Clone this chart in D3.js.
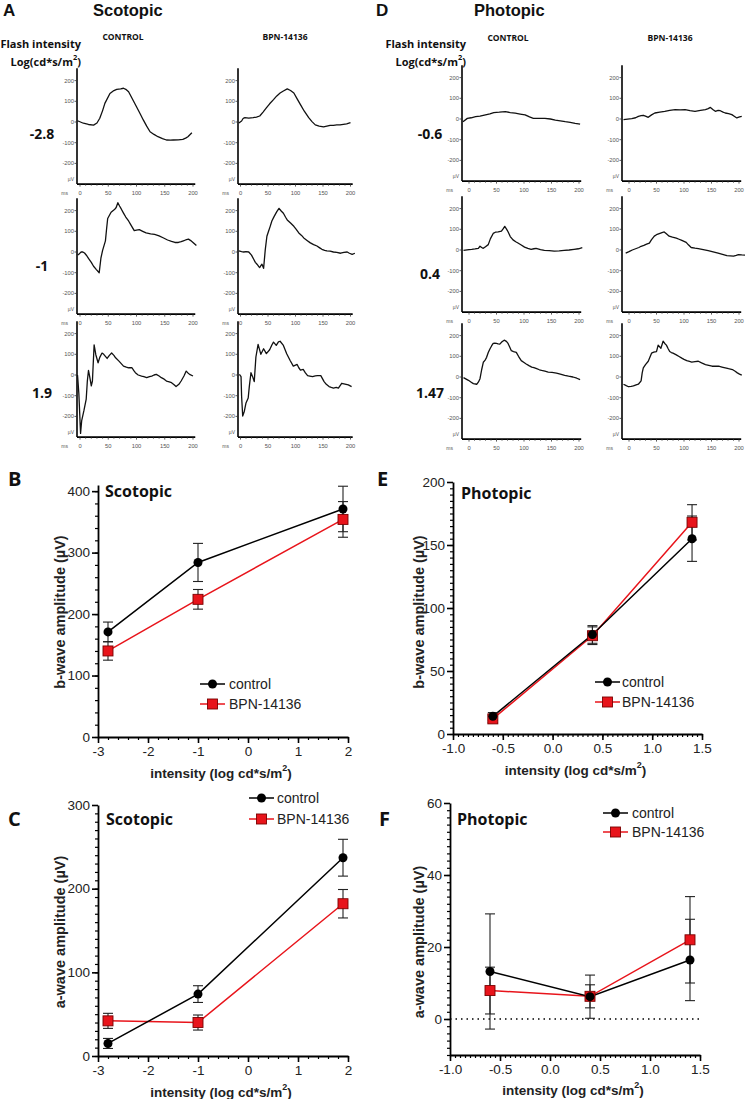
<!DOCTYPE html>
<html><head><meta charset="utf-8">
<script src="https://cdn.jsdelivr.net/npm/d3@7"></script>
<style>
body{margin:0;background:#fff}
svg{display:block}
</style></head>
<body>
<svg id="fig" width="745" height="1099"></svg>
<script>
// ---------- DATA ----------
const groups = ["control", "BPN-14136"];
const scotIntensities = ["-2.8", "-1", "1.9"];
const photIntensities = ["-0.6", "0.4", "1.47"];
const traceYTicks = [200, 100, 0, -100, -200];
const traceXTicks = [0, 50, 100, 150, 200];

// ERG traces [ms, µV]
const traceScotCtrl1 = [[-5,6],[6,-6],[15,-12],[24,-15],[30,-5],[35,18],[40,55],[44,90],[53,138],[60,152],[65,158],[72,160],[77,163],[81,158],[86,146],[93,110],[100,74],[106,42],[112,10],[118,-20],[124,-47],[131,-60],[138,-71],[146,-80],[153,-87],[160,-88],[165,-87],[174,-86],[182,-84],[187,-78],[191,-71],[198,-52]];
const traceScotBpn1 = [[-3,-5],[2,5],[5,18],[8,21],[15,19],[23,21],[29,24],[35,29],[41,48],[47,68],[53,88],[60,108],[66,126],[72,140],[78,150],[85,160],[91,152],[97,140],[103,112],[109,84],[116,52],[124,21],[130,2],[136,-14],[143,-20],[151,-24],[157,-20],[163,-16],[169,-16],[175,-14],[181,-14],[187,-11],[193,-9],[200,-3]];
const traceScotCtrl2 = [[-4,-15],[-1,-8],[2,0],[5,0],[8,-5],[12,-18],[15,-31],[20,-50],[24,-69],[29,-85],[34,-100],[37,-30],[40,8],[45,54],[47,110],[49,162],[55,192],[61,205],[64,215],[67,238],[70,222],[73,208],[77,188],[81,169],[86,150],[90,131],[96,103],[100,106],[105,108],[111,100],[117,92],[125,88],[132,85],[140,78],[147,69],[155,58],[162,51],[168,46],[174,46],[179,50],[183,54],[187,58],[192,62],[196,55],[200,46],[206,31]];
const traceScotBpn2 = [[-3,5],[2,2],[6,0],[10,2],[15,0],[20,-15],[24,-35],[27,-50],[30,-59],[33,-70],[35,-75],[37,-66],[39,-59],[42,-79],[45,10],[48,76],[51,100],[54,124],[57,150],[61,171],[66,195],[70,211],[74,198],[78,187],[82,168],[85,155],[91,140],[97,124],[101,110],[106,92],[111,80],[115,68],[121,56],[127,44],[133,36],[139,29],[144,20],[148,13],[153,8],[157,5],[163,4],[169,0],[175,-2],[182,-6],[188,-2],[194,0],[198,-6],[203,-11],[208,-6]];
const traceScotCtrl3 = [[-5,0],[-4,-13],[-2,-92],[1,-282],[3,-220],[7,-171],[11,-116],[13,-29],[15,22],[17,-5],[20,-53],[22,-29],[25,146],[28,98],[32,59],[35,85],[39,106],[42,100],[45,90],[48,80],[52,95],[56,106],[60,95],[63,83],[69,67],[73,55],[77,43],[82,38],[86,35],[92,35],[95,22],[98,11],[103,0],[109,-5],[113,-8],[118,-13],[123,-8],[127,-5],[131,0],[135,3],[140,-5],[144,-13],[149,-20],[153,-29],[158,-33],[162,-37],[166,-46],[170,-56],[175,-45],[179,-29],[184,-5],[188,19],[191,10],[194,3],[200,-5]];
const traceScotBpn3 = [[-2,3],[1,-8],[2,-103],[4,-198],[7,-175],[10,-135],[14,-111],[16,-56],[19,11],[22,-8],[25,-32],[28,87],[32,148],[37,100],[42,127],[47,103],[53,122],[57,145],[60,159],[65,143],[69,160],[72,163],[78,143],[84,103],[90,71],[96,43],[100,48],[103,51],[106,35],[109,24],[114,27],[118,10],[122,-3],[126,-5],[131,-8],[136,-4],[140,-3],[146,-3],[152,-32],[156,-45],[161,-56],[165,-60],[169,-63],[174,-60],[178,-63],[184,-40],[190,-44],[196,-48],[202,-56]];
const tracePhotCtrl1 = [[-11,-13],[-3,3],[4,6],[12,11],[20,14],[30,20],[38,25],[45,31],[55,33],[66,36],[75,31],[84,28],[93,24],[102,20],[110,10],[117,3],[128,3],[138,3],[148,0],[157,-5],[166,-9],[175,-13],[184,-16],[193,-21],[202,-25]];
const tracePhotBpn1 = [[-10,-3],[5,2],[12,6],[17,13],[22,16],[26,18],[30,14],[35,8],[41,20],[47,29],[56,33],[65,37],[74,42],[84,45],[93,44],[102,45],[111,40],[120,37],[130,42],[139,45],[144,50],[148,56],[153,45],[157,37],[162,42],[166,40],[171,33],[175,29],[181,26],[187,21],[192,12],[196,5],[201,10],[205,13]];
const tracePhotCtrl2 = [[-10,-2],[0,2],[5,3],[11,5],[17,8],[20,18],[23,12],[26,8],[30,16],[35,26],[39,55],[44,80],[48,86],[53,88],[59,91],[62,102],[65,114],[68,102],[71,88],[75,65],[80,49],[85,40],[89,34],[95,24],[101,14],[107,8],[113,3],[118,6],[122,8],[130,2],[137,-2],[146,-3],[155,-5],[164,-4],[173,-2],[182,0],[191,3],[199,6],[206,11]];
const tracePhotBpn2 = [[-6,-15],[0,-8],[6,0],[12,6],[18,12],[22,18],[27,22],[32,28],[37,33],[41,50],[46,67],[50,74],[55,79],[60,84],[64,87],[68,78],[73,67],[79,62],[86,57],[91,52],[95,48],[100,42],[104,37],[108,25],[113,12],[120,9],[126,7],[135,2],[144,-3],[153,-9],[162,-15],[170,-21],[178,-27],[184,-28],[190,-30],[195,-26],[199,-22],[205,-24],[211,-25]];
const tracePhotCtrl3 = [[-10,-3],[-1,-16],[4,-25],[8,-32],[14,-35],[17,-25],[20,-8],[23,35],[26,71],[29,80],[32,95],[35,118],[38,135],[41,150],[44,162],[47,163],[50,162],[53,160],[56,159],[60,170],[64,178],[68,172],[71,162],[74,145],[77,127],[81,123],[86,119],[90,100],[95,79],[100,70],[104,63],[109,55],[114,48],[118,45],[123,40],[128,35],[132,32],[138,28],[144,24],[151,22],[159,19],[166,14],[174,8],[181,4],[189,0],[196,-6],[202,-13]];
const tracePhotBpn3 = [[-10,-35],[-5,-42],[-1,-47],[4,-45],[8,-43],[13,-38],[17,-35],[22,-19],[24,20],[26,44],[30,60],[35,76],[38,95],[41,115],[45,120],[50,123],[53,154],[58,139],[62,173],[65,162],[68,154],[71,138],[74,123],[77,118],[80,115],[86,107],[91,99],[96,91],[100,85],[105,79],[110,75],[114,72],[120,74],[126,76],[132,68],[139,60],[145,56],[151,52],[157,53],[163,52],[169,48],[175,44],[181,40],[188,36],[193,28],[197,20],[201,14],[205,9]];

// Summary data
const xScot = [-2.8, -1, 1.9];
const xPhot = [-0.6, 0.4, 1.4];
const bScotCtrl = [171, 284, 371];
const bScotCtrlErr = [16, 31, 37];
const bScotBpn = [140, 224, 354];
const bScotBpnErr = [15, 16, 29];
const aScotCtrl = [15, 74, 237];
const aScotCtrlErr = [6, 10, 22];
const aScotBpn = [42, 40, 182];
const aScotBpnErr = [9, 9, 17];
const bPhotCtrl = [14, 79, 155];
const bPhotCtrlErr = [3, 7, 18];
const bPhotBpn = [12, 78, 168];
const bPhotBpnErr = [3, 7, 14];
const aPhotCtrl = [13.2, 6.2, 16.4];
const aPhotCtrlErr = [16, 6, 11.3];
const aPhotBpn = [7.9, 6.3, 22];
const aPhotBpnErr = [6.5, 3.2, 12];

const scotXTicks = [-3, -2, -1, 0, 1, 2];
const photXTicks = [-1.0, -0.5, 0.0, 0.5, 1.0, 1.5];

// ---------- DRAW ----------
const svg = d3.select("#fig");
svg.append("rect").attr("width", 745).attr("height", 1099).attr("fill", "#fff");
const HEAD = "'Open Sans', 'Noto Sans', sans-serif";
const ARIAL = "'Liberation Sans', Arial, sans-serif";

function txt(x, y, s, size, weight, anchor, fam) {
  return svg.append("text").attr("x", x).attr("y", y).text(s)
    .attr("font-size", size).attr("font-weight", weight || "normal")
    .attr("text-anchor", anchor || "start").attr("font-family", fam || HEAD)
    .attr("dominant-baseline", "central").attr("fill", "#111");
}
function txtBase(x, y, s, size, weight, anchor) {
  return svg.append("text").attr("x", x).attr("y", y).text(s)
    .attr("font-size", size).attr("font-weight", weight || "normal")
    .attr("text-anchor", anchor || "start").attr("font-family", ARIAL).attr("fill", "#111");
}

// Headers (alphabetic baseline)
txtBase(3, 16, "A", 17, "bold");
txtBase(93, 16, "Scotopic", 16.5, "bold");
txtBase(376, 16, "D", 17, "bold");
txtBase(474, 16, "Photopic", 16.5, "bold");

function flashLabel(xRight, yc) {
  txt(xRight, yc, "Flash intensity", 11, "bold", "end");
  const t = txt(xRight, yc + 18, "", 11, "bold", "end");
  t.append("tspan").text("Log(cd*s/m");
  t.append("tspan").text("2").attr("font-size", 7.5).attr("dy", -4);
  t.append("tspan").text(")").attr("dy", 4);
}
flashLabel(81, 43);
flashLabel(466, 43);
txt(123, 36, "CONTROL", 8.5, "bold", "middle");
txt(285, 36, "BPN-14136", 8.5, "bold", "middle");
txt(508, 37, "CONTROL", 8.5, "bold", "middle");
txt(670, 37, "BPN-14136", 8.5, "bold", "middle");

scotIntensities.forEach((s, i) => txt(42, [133, 265, 392][i], s, 14, "bold", "middle"));
photIntensities.forEach((s, i) => txt(430, [133, 273, 392][i], s, 14, "bold", "middle"));

// ERG trace panels
const lineGen = d3.line();
function tracePanel(axisX, zeroX, pxPerMs, y0, data) {
  const x = d3.scaleLinear().domain([0, 200]).range([zeroX, zeroX + 200 * pxPerMs]);
  const y = d3.scaleLinear().domain([0, 100]).range([y0, y0 - 20.7]);
  const g = svg.append("g");
  const yBot = y(-300), yTop = y(260);
  const xEnd = x(204);
  g.append("line").attr("x1", axisX).attr("x2", axisX).attr("y1", yTop).attr("y2", yBot)
    .attr("stroke", "#000").attr("stroke-width", 1.6);
  g.append("line").attr("x1", axisX).attr("x2", xEnd).attr("y1", yBot).attr("y2", yBot)
    .attr("stroke", "#000").attr("stroke-width", 1.6);
  traceYTicks.forEach(t => {
    g.append("line").attr("x1", axisX - 2.5).attr("x2", axisX).attr("y1", y(t)).attr("y2", y(t))
      .attr("stroke", "#333").attr("stroke-width", 0.8);
    g.append("text").attr("x", axisX - 3).attr("y", y(t)).text(String(t))
      .attr("font-size", 5.8).attr("font-family", ARIAL).attr("fill", "#555")
      .attr("text-anchor", "end").attr("dominant-baseline", "central");
  });
  g.append("text").attr("x", axisX - 3).attr("y", y(-275)).text("µV")
    .attr("font-size", 5).attr("font-family", ARIAL).attr("fill", "#555")
    .attr("text-anchor", "end").attr("dominant-baseline", "central");
  d3.range(0, 201, 10).forEach(t => {
    const major = t % 50 === 0;
    g.append("line").attr("x1", x(t)).attr("x2", x(t)).attr("y1", yBot).attr("y2", yBot + (major ? 2.5 : 1.6))
      .attr("stroke", "#333").attr("stroke-width", 0.8);
  });
  traceXTicks.forEach(t => {
    g.append("text").attr("x", x(t)).attr("y", yBot + 9).text(String(t))
      .attr("font-size", 5.8).attr("font-family", ARIAL).attr("fill", "#555")
      .attr("text-anchor", "middle").attr("dominant-baseline", "central");
  });
  g.append("text").attr("x", axisX - 9).attr("y", yBot + 9).text("ms")
    .attr("font-size", 5).attr("font-family", ARIAL).attr("fill", "#555")
    .attr("text-anchor", "end").attr("dominant-baseline", "central");
  const pts = data.map(d => [Math.max(x(d[0]), axisX + 0.5), y(d[1])]);
  g.append("path").attr("d", lineGen(pts)).attr("fill", "none")
    .attr("stroke", "#111").attr("stroke-width", 1.3).attr("stroke-linejoin", "round");
}
const scotY0 = [122, 252, 375], photY0 = [119, 250, 377];
const scotCtrl = [traceScotCtrl1, traceScotCtrl2, traceScotCtrl3];
const scotBpn = [traceScotBpn1, traceScotBpn2, traceScotBpn3];
const photCtrl = [tracePhotCtrl1, tracePhotCtrl2, tracePhotCtrl3];
const photBpn = [tracePhotBpn1, tracePhotBpn2, tracePhotBpn3];
for (let r = 0; r < 3; r++) {
  tracePanel(77, 80, 0.565, scotY0[r], scotCtrl[r]);
  tracePanel(238, 240.5, 0.55, scotY0[r], scotBpn[r]);
  tracePanel(462, 469, 0.55, photY0[r], photCtrl[r]);
  tracePanel(622, 629, 0.55, photY0[r], photBpn[r]);
}

// Summary panels
function summary(o) {
  const x = d3.scaleLinear().domain(o.xd).range(o.xr);
  const y = d3.scaleLinear().domain(o.yd).range(o.yr);
  const g = svg.append("g");
  g.append("g").attr("transform", `translate(0,${o.yr[0]})`)
    .call(d3.axisBottom(x).tickValues(o.xMinor).tickSize(3).tickFormat(""))
    .call(a => a.select(".domain").remove()).selectAll("line").attr("stroke-width", 1.2);
  g.append("g").attr("transform", `translate(${o.xr[0]},0)`)
    .call(d3.axisLeft(y).tickValues(o.yMinor).tickSize(3).tickFormat(""))
    .call(a => a.select(".domain").remove()).selectAll("line").attr("stroke-width", 1.2);
  const ax = g.append("g").attr("transform", `translate(0,${o.yr[0]})`)
    .call(d3.axisBottom(x).tickValues(o.xTicks).tickSize(6).tickSizeOuter(0).tickFormat(o.fx));
  const ay = g.append("g").attr("transform", `translate(${o.xr[0]},0)`)
    .call(d3.axisLeft(y).tickValues(o.yTicks).tickSize(6).tickSizeOuter(0).tickFormat(d => String(d)));
  [ax, ay].forEach(a => {
    a.select(".domain").attr("stroke-width", 1.8);
    a.selectAll(".tick line").attr("stroke-width", 1.6);
    a.selectAll("text").attr("font-size", 13.5).attr("font-family", ARIAL).attr("fill", "#222");
  });
  ax.selectAll("text").attr("dy", "0.71em").attr("y", 9);
  ay.selectAll("text").attr("x", -8);
  if (o.dotted) {
    g.append("line").attr("x1", o.xr[0]).attr("x2", o.xr[1]).attr("y1", y(0)).attr("y2", y(0))
      .attr("stroke", "#000").attr("stroke-width", 1.3).attr("stroke-dasharray", "1.5,4");
  }
  const t = g.append("text").attr("x", (o.xr[0] + o.xr[1]) / 2 - 2).attr("y", o.xTitleY)
    .attr("font-size", 13.5).attr("font-weight", "bold").attr("font-family", ARIAL)
    .attr("text-anchor", "middle").attr("dominant-baseline", "central").attr("fill", "#222");
  t.append("tspan").text("intensity (log cd*s/m");
  t.append("tspan").text("2").attr("font-size", 9).attr("dy", -5);
  t.append("tspan").text(")").attr("dy", 5);
  g.append("text").attr("transform", `translate(${o.yTitleX},${o.yTitleY}) rotate(-90)`)
    .text(o.yTitle).attr("font-size", 14.5).attr("font-weight", "bold").attr("font-family", ARIAL)
    .attr("text-anchor", "middle").attr("dominant-baseline", "central").attr("fill", "#222");
  txt(o.letter[1], o.letter[2], o.letter[0], 20, "bold");
  txt(o.title[1], o.title[2], o.title[0], 16, "bold");
  const series = [
    {v: o.ctrl, e: o.ctrlErr, color: "#000", shape: "circle"},
    {v: o.bpn, e: o.bpnErr, color: "#e8141b", shape: "square"}
  ];
  const line = d3.line().x((d, i) => x(o.xs[i])).y(d => y(d));
  series.slice().reverse().forEach(s => {
    g.append("path").attr("d", line(s.v)).attr("fill", "none").attr("stroke", s.color).attr("stroke-width", 1.5);
  });
  series.forEach(s => {
    s.v.forEach((v, i) => {
      const cx = x(o.xs[i]);
      g.append("line").attr("x1", cx).attr("x2", cx).attr("y1", y(v - s.e[i])).attr("y2", y(v + s.e[i]))
        .attr("stroke", "#222").attr("stroke-width", 1.1);
      [v - s.e[i], v + s.e[i]].forEach(e => g.append("line").attr("x1", cx - 5).attr("x2", cx + 5)
        .attr("y1", y(e)).attr("y2", y(e)).attr("stroke", "#222").attr("stroke-width", 1.1));
    });
  });
  function marker(cx, cy, s) {
    if (s.shape === "circle") g.append("circle").attr("cx", cx).attr("cy", cy).attr("r", 4.5).attr("fill", "#000");
    else g.append("rect").attr("x", cx - 5).attr("y", cy - 5).attr("width", 10).attr("height", 10)
      .attr("fill", "#e8141b").attr("stroke", "#7a0000").attr("stroke-width", 0.9);
  }
  const order = o.ctrlOnTop ? [1, 0] : [0, 1];
  order.forEach(k => series[k].v.forEach((v, i) => marker(x(o.xs[i]), y(v), series[k])));
  series.forEach((s, k) => {
    const ly = o.leg[1] + k * o.leg[3];
    g.append("line").attr("x1", o.leg[0]).attr("x2", o.leg[0] + 25).attr("y1", ly).attr("y2", ly)
      .attr("stroke", s.color).attr("stroke-width", 1.5);
    marker(o.leg[0] + 12.5, ly, s);
    g.append("text").attr("x", o.leg[2]).attr("y", ly).text(groups[k])
      .attr("font-size", 14).attr("font-family", ARIAL).attr("dominant-baseline", "central").attr("fill", "#222");
  });
}

const fInt = d => String(d);
const fDec = d => d.toFixed(1);

summary({xd: [-3, 2], xr: [98, 348], yd: [0, 410], yr: [737, 485],
  xTicks: scotXTicks, xMinor: d3.range(-3, 2.01, 0.2), yTicks: [0, 100, 200, 300, 400], yMinor: d3.range(0, 410, 20),
  fx: fInt, xTitleY: 773, yTitle: "b-wave amplitude (µV)", yTitleX: 60, yTitleY: 612,
  letter: ["B", 8, 478], title: ["Scotopic", 105, 491], xs: xScot,
  ctrl: bScotCtrl, ctrlErr: bScotCtrlErr, bpn: bScotBpn, bpnErr: bScotBpnErr,
  leg: [200, 684, 229, 20], ctrlOnTop: true});

summary({xd: [-3, 2], xr: [98, 348], yd: [0, 300], yr: [1056, 805],
  xTicks: scotXTicks, xMinor: d3.range(-3, 2.01, 0.2), yTicks: [0, 100, 200, 300], yMinor: d3.range(0, 300, 10),
  fx: fInt, xTitleY: 1092, yTitle: "a-wave amplitude (µV)", yTitleX: 60, yTitleY: 932,
  letter: ["C", 8, 818], title: ["Scotopic", 106, 819], xs: xScot,
  ctrl: aScotCtrl, ctrlErr: aScotCtrlErr, bpn: aScotBpn, bpnErr: aScotBpnErr,
  leg: [249, 798, 277, 21], ctrlOnTop: false});

summary({xd: [-1, 1.5], xr: [453, 702], yd: [0, 200], yr: [734, 482],
  xTicks: photXTicks, xMinor: d3.range(-1, 1.501, 0.05), yTicks: [0, 50, 100, 150, 200], yMinor: d3.range(0, 200, 5),
  fx: fDec, xTitleY: 770, yTitle: "b-wave amplitude (µV)", yTitleX: 419, yTitleY: 612,
  letter: ["E", 377, 478], title: ["Photopic", 461, 493], xs: xPhot,
  ctrl: bPhotCtrl, ctrlErr: bPhotCtrlErr, bpn: bPhotBpn, bpnErr: bPhotBpnErr,
  leg: [595, 682, 622, 20], ctrlOnTop: true});

summary({xd: [-1, 1.5], xr: [450, 700], yd: [-10, 60], yr: [1055, 803],
  xTicks: photXTicks, xMinor: d3.range(-1, 1.501, 0.05), yTicks: [0, 20, 40, 60], yMinor: d3.range(-10, 60, 2),
  fx: fDec, xTitleY: 1090, yTitle: "a-wave amplitude (µV)", yTitleX: 419, yTitleY: 942,
  letter: ["F", 379, 818], title: ["Photopic", 457, 819], xs: xPhot,
  ctrl: aPhotCtrl, ctrlErr: aPhotCtrlErr, bpn: aPhotBpn, bpnErr: aPhotBpnErr,
  leg: [603, 813, 632, 19], ctrlOnTop: true, dotted: true});
</script>
</body></html>
